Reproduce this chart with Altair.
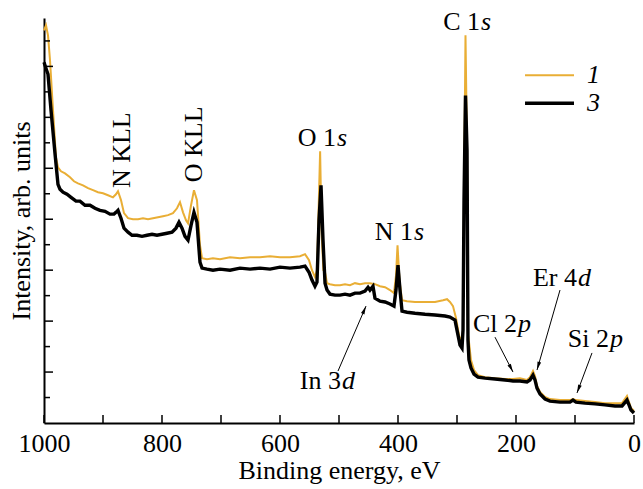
import math
import altair as alt
import pandas as pd

SERIF = "Liberation Serif"
GOLD = "#E9AE35"
FS = 26

# XPS survey spectra: (binding energy, eV ; intensity, arb. units)
sample_1 = [
    (1000.0, 15.41), (996.6, 15.61), (993.2, 15.22), (989.8, 14.24), (984.7, 12.27),
    (979.7, 10.43), (976.3, 10.04), (971.2, 9.88), (964.4, 9.80), (955.9, 9.65),
    (949.2, 9.49), (942.4, 9.41), (933.9, 9.33), (925.4, 9.22), (916.9, 9.14),
    (908.5, 9.06), (900.0, 9.02), (891.5, 8.94), (883.1, 8.86), (878.0, 8.98),
    (874.6, 9.10), (869.5, 8.75), (864.4, 8.24), (857.6, 8.04), (849.2, 8.00),
    (840.7, 8.00), (832.2, 8.04), (823.7, 8.00), (815.3, 8.04), (806.8, 8.08),
    (798.3, 8.12), (789.8, 8.16), (781.4, 8.24), (774.6, 8.43), (769.5, 8.67),
    (764.4, 8.27), (759.3, 7.96), (755.9, 7.84), (750.8, 8.55), (745.8, 9.14),
    (740.7, 8.75), (735.6, 6.98), (732.2, 6.47), (723.7, 6.43), (713.6, 6.47),
    (701.7, 6.43), (684.7, 6.51), (667.8, 6.47), (650.8, 6.51), (633.9, 6.51),
    (616.9, 6.55), (600.0, 6.51), (583.1, 6.51), (566.1, 6.55), (557.6, 6.63),
    (550.8, 6.39), (545.8, 6.00), (540.7, 5.73), (537.3, 6.00), (535.0, 8.00),
    (532.0, 10.67), (529.5, 7.50), (526.5, 6.00), (523.7, 5.92), (520.3, 5.49),
    (515.3, 5.45), (506.8, 5.41), (498.3, 5.41), (489.8, 5.45), (481.4, 5.41),
    (472.9, 5.49), (464.4, 5.45), (455.9, 5.49), (447.5, 5.49), (439.0, 5.45),
    (430.5, 5.37), (422.0, 5.33), (413.6, 5.22), (406.8, 5.10), (403.4, 5.80),
    (400.8, 6.98), (397.5, 5.61), (393.2, 4.82), (384.7, 4.78), (371.2, 4.75),
    (354.2, 4.75), (337.3, 4.75), (323.7, 4.82), (316.9, 4.86), (311.9, 4.75),
    (306.8, 4.59), (301.7, 4.12), (296.6, 3.45), (293.2, 3.18), (289.8, 3.65),
    (288.1, 8.75), (285.6, 15.22), (283.0, 10.71), (281.4, 3.45), (279.7, 3.18),
    (276.3, 2.47), (271.2, 2.08), (264.4, 1.88), (252.5, 1.80), (235.6, 1.76),
    (218.6, 1.73), (205.1, 1.73), (193.2, 1.76), (181.4, 1.69), (176.3, 1.80),
    (171.2, 2.04), (167.8, 1.84), (164.4, 1.45), (159.3, 1.22), (150.8, 1.02),
    (142.4, 0.94), (125.4, 0.90), (108.5, 0.90), (103.4, 0.94), (98.3, 0.90),
    (83.1, 0.86), (66.1, 0.82), (49.2, 0.78), (32.2, 0.78), (20.3, 0.78),
    (11.9, 1.06), (8.5, 0.82), (5.1, 0.59), (0.0, 0.47),
]

sample_3 = [
    (1000.0, 14.16), (996.6, 13.92), (993.2, 13.69), (988.1, 12.27), (981.4, 10.59),
    (976.3, 9.37), (972.9, 9.18), (967.8, 9.06), (961.0, 8.98), (954.2, 8.86),
    (945.8, 8.71), (939.0, 8.71), (930.5, 8.55), (922.0, 8.55), (913.6, 8.43),
    (905.1, 8.35), (896.6, 8.31), (888.1, 8.20), (881.4, 8.20), (878.0, 8.27),
    (874.6, 8.35), (869.5, 8.04), (864.4, 7.65), (857.6, 7.49), (850.8, 7.37),
    (842.4, 7.37), (833.9, 7.33), (825.4, 7.37), (816.9, 7.41), (808.5, 7.37),
    (800.0, 7.41), (791.5, 7.45), (783.0, 7.49), (776.3, 7.65), (771.2, 7.88),
    (766.1, 7.65), (761.0, 7.33), (755.9, 7.18), (750.8, 7.76), (745.8, 8.27),
    (740.7, 7.88), (735.6, 6.31), (732.2, 6.08), (723.7, 6.04), (713.6, 6.00),
    (701.7, 6.04), (684.7, 6.00), (667.8, 6.08), (650.8, 6.04), (633.9, 6.08),
    (616.9, 6.04), (600.0, 6.12), (583.1, 6.08), (566.1, 6.12), (557.6, 6.16),
    (550.8, 5.92), (545.8, 5.61), (540.7, 5.37), (537.3, 5.53), (533.9, 7.96),
    (530.5, 9.33), (527.1, 7.18), (523.7, 5.49), (520.3, 5.22), (515.3, 5.06),
    (506.8, 5.02), (498.3, 5.02), (489.8, 5.06), (481.4, 5.02), (472.9, 5.10),
    (464.4, 5.10), (455.9, 5.18), (450.8, 5.33), (447.5, 5.22), (442.4, 5.37),
    (439.0, 4.90), (430.5, 4.78), (422.0, 4.75), (413.6, 4.67), (406.8, 4.59),
    (403.4, 5.22), (400.0, 6.20), (396.6, 5.22), (393.2, 4.39), (384.7, 4.35),
    (371.2, 4.31), (354.2, 4.27), (337.3, 4.24), (320.3, 4.20), (311.9, 4.16),
    (303.4, 4.04), (298.3, 3.45), (294.9, 3.06), (291.5, 2.94), (289.8, 3.65),
    (288.1, 8.75), (285.6, 12.86), (283.0, 10.71), (281.4, 3.25), (279.7, 2.47),
    (276.3, 2.16), (271.2, 1.92), (264.4, 1.80), (252.5, 1.76), (235.6, 1.73),
    (218.6, 1.69), (205.1, 1.65), (193.2, 1.65), (181.4, 1.61), (176.3, 1.69),
    (171.2, 1.88), (167.8, 1.69), (164.4, 1.37), (159.3, 1.14), (150.8, 0.94),
    (142.4, 0.86), (125.4, 0.82), (108.5, 0.82), (103.4, 0.90), (98.3, 0.82),
    (83.1, 0.78), (66.1, 0.75), (49.2, 0.71), (32.2, 0.67), (20.3, 0.67),
    (11.9, 0.90), (8.5, 0.71), (5.1, 0.51), (0.0, 0.39),
]

x_tick_values = [0, 100, 200, 300, 400, 500, 600, 700, 800, 900, 1000]
x_label_values = [0, 200, 400, 600, 800, 1000]
y_ticks_long = [2, 4, 6, 8, 10, 12, 14]
y_ticks_short = [1, 3, 5, 7, 9, 11, 13, 15]

# peak labels: upright part, italic orbital letter, junction energy, baseline intensity
peak_labels = [
    ("C 1", "s", 261.0, 15.41),
    ("O 1", "s", 505.1, 10.86),
    ("N 1", "s", 374.6, 7.18),
    ("Cl 2", "p", 198.3, 3.57),
    ("Er 4", "d", 96.6, 5.37),
    ("Si 2", "p", 42.4, 2.98),
    ("In 3", "d", 496.6, 1.33),
]
auger_labels = [("N KLL", 867.8, 10.71), ("O KLL", 745.8, 10.94)]

# pointer arrows: tail energy, tail intensity, head energy, head intensity
arrows = [
    (235.6, 3.37, 205.1, 2.00),
    (125.4, 5.22, 164.4, 2.08),
    (71.2, 2.75, 96.6, 1.18),
    (501.7, 2.04, 454.2, 4.59),
]

# legend rows: label, colour, line width, line start/end energy, intensity
legend_rows = [
    ("1", GOLD, 2.0, 184.7, 101.7, 13.65),
    ("3", "black", 3.5, 184.7, 101.7, 12.55),
]
legend_text_energy = 79.7

W, H = 590, 405
X_MAX, Y_MAX = 1000.0, 15.9

x_scale = alt.Scale(domain=[0, X_MAX], reverse=True, nice=False, zero=False)
y_scale = alt.Scale(domain=[0, Y_MAX], nice=False, zero=False)

x_axis = alt.Axis(
    values=x_label_values, format="d", ticks=False, grid=False, labelFlush=False,
    domainColor="black", domainWidth=2, labelColor="black",
    labelFont=SERIF, labelFontSize=FS, labelPadding=7,
    title="Binding energy, eV", titleFont=SERIF, titleFontSize=FS,
    titleFontWeight="normal", titleColor="black", titlePadding=1,
)
y_axis = alt.Axis(
    labels=False, ticks=False, grid=False,
    domainColor="black", domainWidth=2,
    title="Intensity, arb. units", titleFont=SERIF, titleFontSize=FS,
    titleFontWeight="normal", titleColor="black", titlePadding=10,
)


def X(field, **kw):
    return alt.X(field, type="quantitative", scale=x_scale, axis=x_axis, **kw)


def Y(field, **kw):
    return alt.Y(field, type="quantitative", scale=y_scale, axis=y_axis, **kw)


df1 = pd.DataFrame(sample_1, columns=["energy", "intensity"])
df3 = pd.DataFrame(sample_3, columns=["energy", "intensity"])
df1["order"] = range(len(df1))
df3["order"] = range(len(df3))

line1 = alt.Chart(df1).mark_line(color=GOLD, strokeWidth=2).encode(
    x=X("energy"), y=Y("intensity"), order="order:Q"
)
line3 = alt.Chart(df3).mark_line(color="black", strokeWidth=3.4).encode(
    x=X("energy"), y=Y("intensity"), order="order:Q"
)

# inward tick marks
xt = alt.Chart(pd.DataFrame({"v": x_tick_values})).mark_rule(
    color="black", strokeWidth=1.5
).encode(x=X("v"), y=alt.value(H), y2=alt.value(H - 8))
ytl = alt.Chart(pd.DataFrame({"v": y_ticks_long})).mark_rule(
    color="black", strokeWidth=1.5
).encode(y=Y("v"), x=alt.value(0), x2=alt.value(9))
yts = alt.Chart(pd.DataFrame({"v": y_ticks_short})).mark_rule(
    color="black", strokeWidth=1.5
).encode(y=Y("v"), x=alt.value(0), x2=alt.value(6))

# peak labels
pl = pd.DataFrame(peak_labels, columns=["main", "orb", "e", "i"])
pl_main = alt.Chart(pl).mark_text(
    font=SERIF, fontSize=FS, align="right", baseline="alphabetic", color="black"
).encode(x=X("e"), y=Y("i"), text="main:N")
pl_orb = alt.Chart(pl).mark_text(
    font=SERIF, fontSize=FS, fontStyle="italic", align="left",
    baseline="alphabetic", color="black", dx=1
).encode(x=X("e"), y=Y("i"), text="orb:N")

al = pd.DataFrame(auger_labels, columns=["t", "e", "i"])
auger = alt.Chart(al).mark_text(
    font=SERIF, fontSize=FS, angle=270, align="center", baseline="middle",
    color="black"
).encode(x=X("e"), y=Y("i"), text="t:N")

# arrows
ar = pd.DataFrame(arrows, columns=["e1", "i1", "e2", "i2"])
ar["angle"] = [
    math.degrees(math.atan2(-(e2 - e1) * W / X_MAX, (i2 - i1) * H / Y_MAX)) % 360
    for e1, i1, e2, i2 in arrows
]
arrow_lines = alt.Chart(ar).mark_rule(color="black", strokeWidth=1).encode(
    x=X("e1"), y=Y("i1"), x2="e2", y2="i2"
)
arrow_heads = alt.Chart(ar).mark_point(
    shape="M0,0L0.45,2L-0.45,2Z", filled=True, color="black", size=70, opacity=1
).encode(x=X("e2"), y=Y("i2"), angle=alt.Angle("angle:Q", scale=None))

# legend
lg = pd.DataFrame(legend_rows, columns=["label", "color", "w", "ea", "eb", "i"])
lg["et"] = legend_text_energy
legend_lines = alt.Chart(lg).mark_rule().encode(
    x=X("ea"), x2="eb", y=Y("i"),
    color=alt.Color("color:N", scale=None),
    strokeWidth=alt.StrokeWidth("w:Q", scale=None),
)
legend_text = alt.Chart(lg).mark_text(
    font=SERIF, fontSize=FS, fontStyle="italic", align="left",
    baseline="middle", color="black"
).encode(x=X("et"), y=Y("i"), text="label:N")

chart = alt.layer(
    line1, line3, xt, ytl, yts, pl_main, pl_orb, auger,
    arrow_lines, arrow_heads, legend_lines, legend_text,
).properties(
    width=W, height=H,
    padding={"left": 44, "top": 18, "right": 9, "bottom": 66},
    autosize=alt.AutoSizeParams(type="none"),
    background="white",
).configure_view(stroke=None)

chart.save("out.html", embed_options={"renderer": "svg", "actions": False})
